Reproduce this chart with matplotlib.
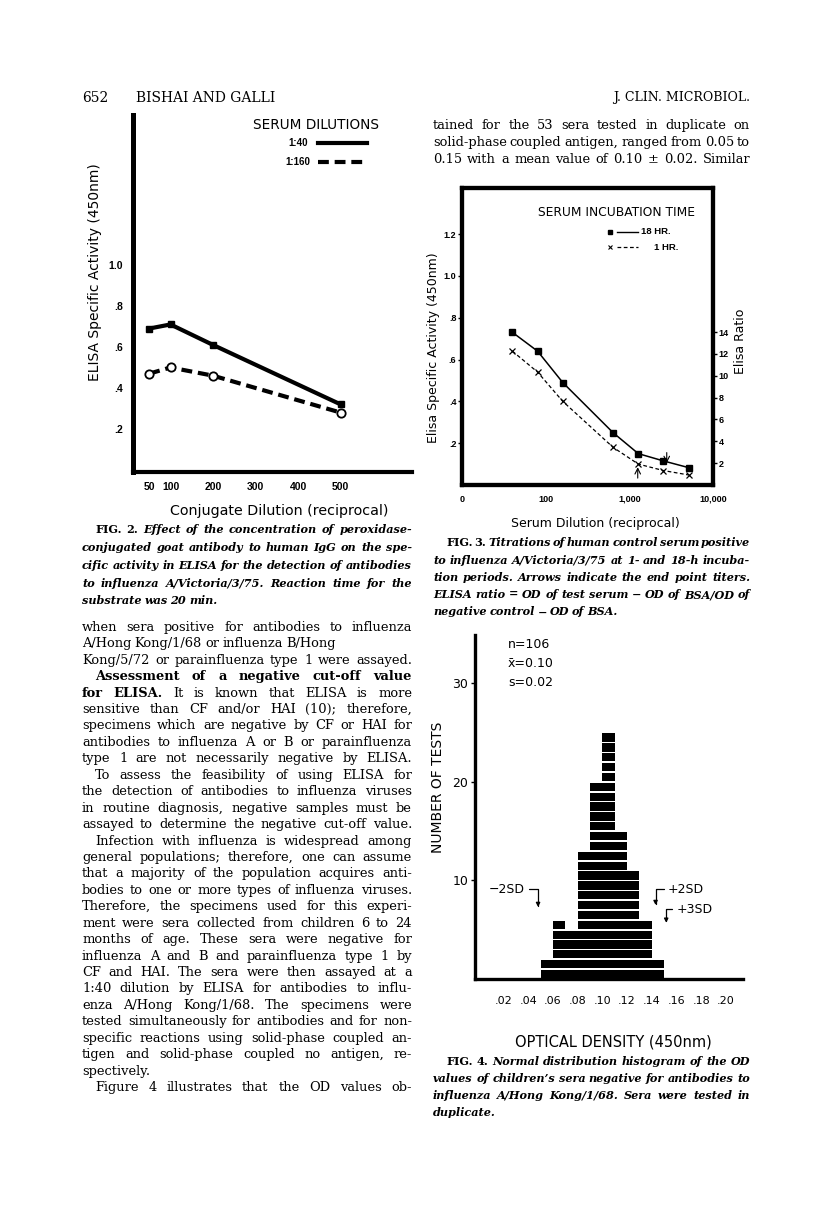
import matplotlib
matplotlib.use("Agg")
import matplotlib.pyplot as plt
from matplotlib.lines import Line2D
from matplotlib.ticker import NullLocator

W, H = 816, 1208
SERIF = "DejaVu Serif"
SANS = "DejaVu Sans"
BSANS = "Liberation Sans"

# ---- Fig. 2 data ----
conj_dilution = [50, 100, 200, 500]
act_1_40 = [0.69, 0.71, 0.61, 0.32]
act_1_160 = [0.47, 0.50, 0.46, 0.28]
fig2_xticks = [50, 100, 200, 300, 400, 500]
fig2_yticks = [0.2, 0.4, 0.6, 0.8, 1.0]
fig2_yticklabels = [".2", ".4", ".6", ".8", "1.0"]

# ---- Fig. 3 data ----
serum_dilution = [40, 80, 160, 640, 1280, 2560, 5120]
od_18hr = [0.73, 0.64, 0.49, 0.25, 0.15, 0.115, 0.083]
od_1hr = [0.64, 0.54, 0.40, 0.18, 0.10, 0.069, 0.048]
fig3_xticks = [10, 100, 1000, 10000]
fig3_xticklabels = ["0", "100", "1,000", "10,000"]
fig3_yticks = [0.2, 0.4, 0.6, 0.8, 1.0, 1.2]
fig3_yticklabels = [".2", ".4", ".6", ".8", "1.0", "1.2"]
ratio_ticks = [2, 4, 6, 8, 10, 12, 14]
endpoint_18hr = 2800
endpoint_1hr = 1260

# ---- Fig. 4 data ----
od_bin_left = [0.05, 0.06, 0.07, 0.08, 0.09, 0.10, 0.11, 0.12, 0.13, 0.14]
n_tests = [2, 6, 5, 13, 20, 25, 15, 11, 6, 2]
fig4_xticks = [0.02, 0.04, 0.06, 0.08, 0.10, 0.12, 0.14, 0.16, 0.18, 0.20]
fig4_xticklabels = [".02", ".04", ".06", ".08", ".10", ".12", ".14", ".16", ".18", ".20"]
fig4_yticks = [10, 20, 30]

# ---- page text ----
body_left = [
    "when sera positive for antibodies to influenza",
    "A/Hong Kong/1/68 or influenza B/Hong",
    "Kong/5/72 or parainfluenza type 1 were assayed.",
    ">**Assessment of a negative cut-off value**",
    "**for ELISA.** It is known that ELISA is more",
    "sensitive than CF and/or HAI (10); therefore,",
    "specimens which are negative by CF or HAI for",
    "antibodies to influenza A or B or parainfluenza",
    "type 1 are not necessarily negative by ELISA.",
    ">To assess the feasibility of using ELISA for",
    "the detection of antibodies to influenza viruses",
    "in routine diagnosis, negative samples must be",
    "assayed to determine the negative cut-off value.",
    ">Infection with influenza is widespread among",
    "general populations; therefore, one can assume",
    "that a majority of the population acquires anti-",
    "bodies to one or more types of influenza viruses.",
    "Therefore, the specimens used for this experi-",
    "ment were sera collected from children 6 to 24",
    "months of age. These sera were negative for",
    "influenza A and B and parainfluenza type 1 by",
    "CF and HAI. The sera were then assayed at a",
    "1:40 dilution by ELISA for antibodies to influ-",
    "enza A/Hong Kong/1/68. The specimens were",
    "tested simultaneously for antibodies and for non-",
    "specific reactions using solid-phase coupled an-",
    "tigen and solid-phase coupled no antigen, re-",
    "spectively.",
    ">Figure 4 illustrates that the OD values ob-",
]
body_right = [
    "tained for the 53 sera tested in duplicate on",
    "solid-phase coupled antigen, ranged from 0.05 to",
    "0.15 with a mean value of 0.10 ± 0.02. Similar",
]
cap2 = [
    ">^FIG. ^2. Effect of the concentration of peroxidase-",
    "conjugated goat antibody to human IgG on the spe-",
    "cific activity in ELISA for the detection of antibodies",
    "to influenza A/Victoria/3/75. Reaction time for the",
    "substrate was 20 min.",
]
cap3 = [
    ">^FIG. ^3. Titrations of human control serum positive",
    "to influenza A/Victoria/3/75 at 1- and 18-h incuba-",
    "tion periods. Arrows indicate the end point titers.",
    "ELISA ratio = OD of test serum − OD of BSA/OD of",
    "negative control − OD of BSA.",
]
cap4 = [
    ">^FIG. ^4. Normal distribution histogram of the OD",
    "values of children’s sera negative for antibodies to",
    "influenza A/Hong Kong/1/68. Sera were tested in",
    "duplicate.",
]

fig = plt.figure(figsize=(W / 100, H / 100), dpi=100)
renderer = fig.canvas.get_renderer()


def fx(x):
    return x / W


def fy(y):
    return 1 - y / H


def add_axes(l, t, r, b):
    return fig.add_axes([fx(l), fy(b), (r - l) / W, (b - t) / H])


def tokens(line, weight, style):
    out = []
    bold = False
    for w in line.split():
        if w.startswith("**"):
            bold = True
            w = w[2:]
        end = w.endswith("**")
        if end:
            w = w[:-2]
        st = style
        if w.startswith("^"):
            w = w[1:]
            st = "normal"
        out.append((w, "bold" if bold else weight, st))
        if end:
            bold = False
    return out


def word_width(w, size, wt, st):
    t = fig.text(0, 0, w, fontsize=size, family=SERIF, weight=wt, style=st)
    wd = t.get_window_extent(renderer).width
    t.remove()
    return wd


def split_indent(line, x0, indent):
    if line.startswith(">"):
        return line[1:], x0 + indent
    return line, x0


def fit_size(lines, x0, x1, weight="normal", style="normal", indent=13):
    # largest size at which every line fits with tight spaces
    best = 99
    for line in lines:
        line, left = split_indent(line, x0, indent)
        words = tokens(line, weight, style)
        ws = [word_width(w, 10, wt, st) for w, wt, st in words]
        nat = sum(ws) + 10 * 100 / 72 * 0.16 * (len(words) - 1)
        best = min(best, 10 * (x1 - left) / nat)
    return best * 0.995


def text_block(lines, x0, x1, y0, step, size, weight="normal", style="normal", indent=13):
    # justified text, word by word
    for i, line in enumerate(lines):
        line, left = split_indent(line, x0, indent)
        words = tokens(line, weight, style)
        widths = [word_width(w, size, wt, st) for w, wt, st in words]
        space = size * 100 / 72 * 0.25
        natural = sum(widths) + space * (len(words) - 1)
        if natural > 0.8 * (x1 - left) and len(words) > 1:
            gap = (x1 - left - sum(widths)) / (len(words) - 1)
        else:
            gap = space
        x = left
        y = y0 + i * step + size * 100 / 72 * 0.3
        for (w, wt, st), wd in zip(words, widths):
            fig.text(fx(x), fy(y), w, fontsize=size, family=SERIF, weight=wt,
                     style=st, va="baseline", ha="left")
            x += wd + gap


# header
fig.text(fx(82), fy(98), "652", fontsize=10, family=SERIF, va="center")
fig.text(fx(136), fy(98), "BISHAI AND GALLI", fontsize=10, family=SERIF, va="center")
fig.text(fx(750), fy(98), "J. CLIN. MICROBIOL.", fontsize=9, family=SERIF,
         va="center", ha="right")

body_size = min(fit_size(body_left, 82, 412), fit_size(body_right, 433, 750), 9.6)
cap_size = min(fit_size(cap2, 82, 412, "bold", "italic"),
               fit_size(cap3, 433, 750, "bold", "italic"),
               fit_size(cap4, 433, 750, "bold", "italic"), 9.3)
text_block(body_left, 82, 412, 627, 16.43, body_size)
text_block(body_right, 433, 750, 125, 17.0, body_size)
text_block(cap2, 82, 412, 530, 17.75, cap_size, weight="bold", style="italic")
text_block(cap3, 433, 750, 543, 17.25, cap_size, weight="bold", style="italic")
text_block(cap4, 433, 750, 1062, 17.0, cap_size, weight="bold", style="italic")

# ================= Fig. 2 =================
ax2 = add_axes(133, 115, 412, 472)
ax2.plot(conj_dilution, act_1_40, color="black", lw=3, marker="s", ms=5)
ax2.plot(conj_dilution, act_1_160, color="black", lw=3, ls=(0, (2.6, 1.4)),
         marker="o", ms=6, mfc="white", mec="black", mew=1.3)
ax2.set_xlim(11.8, 668)
ax2.set_ylim(-0.01, 1.732)
for s in ["top", "right"]:
    ax2.spines[s].set_visible(False)
ax2.spines["left"].set_linewidth(3.6)
ax2.spines["bottom"].set_linewidth(3.0)
ax2.set_xticks(fig2_xticks)
ax2.set_xticklabels([str(v) for v in fig2_xticks])
ax2.set_yticks(fig2_yticks)
ax2.set_yticklabels(fig2_yticklabels)
ax2.tick_params(length=0, pad=7)
for lab in ax2.get_xticklabels() + ax2.get_yticklabels():
    lab.set_fontfamily(BSANS)
    lab.set_fontweight("bold")
    lab.set_fontsize(7.5)

fig.text(fx(95), fy(272), "ELISA Specific Activity (450nm)", rotation=90,
         ha="center", va="center", fontsize=10, family=SANS)
fig.text(fx(279), fy(511), "Conjugate Dilution (reciprocal)", ha="center",
         va="center", fontsize=10.3, family=SANS)
fig.text(fx(316), fy(125), "SERUM DILUTIONS", ha="center", va="center",
         fontsize=9.8, family=SANS)
fig.text(fx(308), fy(143), "1:40", ha="right", va="center", fontsize=7,
         family=BSANS, weight="bold")
fig.text(fx(310), fy(162), "1:160", ha="right", va="center", fontsize=7,
         family=BSANS, weight="bold")
fig.add_artist(Line2D([fx(318), fx(367)], [fy(143), fy(143)], transform=fig.transFigure,
                      color="black", lw=3))
fig.add_artist(Line2D([fx(318), fx(367)], [fy(162), fy(162)], transform=fig.transFigure,
                      color="black", lw=3, ls=(0, (2.6, 1.4))))

# ================= Fig. 3 =================
ax3 = add_axes(462, 188, 713, 485)
ax3.set_xscale("log")
ax3.plot(serum_dilution, od_18hr, color="black", lw=1.1, marker="s", ms=4)
ax3.plot(serum_dilution, od_1hr, color="black", lw=0.9, ls=(0, (3, 2)),
         marker="x", ms=4, mew=0.9)
ax3.set_xlim(10, 10000)
ax3.set_ylim(0, 1.42)
for s in ax3.spines.values():
    s.set_linewidth(3)
ax3.set_xticks(fig3_xticks)
ax3.set_xticklabels(fig3_xticklabels)
ax3.xaxis.set_minor_locator(NullLocator())
ax3.set_yticks(fig3_yticks)
ax3.set_yticklabels(fig3_yticklabels)
ax3.tick_params(axis="x", length=0, pad=7)
ax3.tick_params(axis="y", length=3, width=1, direction="out", pad=1)
ax3r = ax3.twinx()
ax3r.set_ylim(0, 27.2)
ax3r.set_yticks(ratio_ticks)
ax3r.set_yticklabels([str(v) for v in ratio_ticks])
ax3r.tick_params(axis="y", length=3, width=1, direction="out", pad=1)
for s in ax3r.spines.values():
    s.set_linewidth(3)
for lab in (ax3.get_xticklabels() + ax3.get_yticklabels() + ax3r.get_yticklabels()):
    lab.set_fontfamily(BSANS)
    lab.set_fontweight("bold")
    lab.set_fontsize(6.5)

ax3.annotate("", xy=(endpoint_18hr, 0.105), xytext=(endpoint_18hr, 0.155),
             arrowprops=dict(arrowstyle="->", lw=0.8, color="black", shrinkA=0, shrinkB=0))
ax3.annotate("", xy=(endpoint_1hr, 0.085), xytext=(endpoint_1hr, 0.033),
             arrowprops=dict(arrowstyle="->", lw=0.8, color="black", shrinkA=0, shrinkB=0))

fig.text(fx(433), fy(348), "Elisa Specific Activity (450nm)", rotation=90,
         ha="center", va="center", fontsize=9, family=SANS)
fig.text(fx(741), fy(341), "Elisa Ratio", rotation=90, ha="center", va="center",
         fontsize=9, family=SANS)
fig.text(fx(595), fy(523), "Serum Dilution (reciprocal)", ha="center", va="center",
         fontsize=9, family=SANS)
fig.text(fx(616), fy(213), "SERUM INCUBATION TIME", ha="center", va="center",
         fontsize=8.8, family=SANS)
fig.add_artist(Line2D([fx(610)], [fy(232)], transform=fig.transFigure, marker="s",
                      ms=3.5, color="black", ls="none"))
fig.add_artist(Line2D([fx(617), fx(638)], [fy(232), fy(232)], transform=fig.transFigure,
                      color="black", lw=1))
fig.text(fx(641), fy(232), "18 HR.", ha="left", va="center", fontsize=6.8,
         family=BSANS, weight="bold")
fig.add_artist(Line2D([fx(610)], [fy(247)], transform=fig.transFigure, marker="x",
                      ms=3.5, mew=0.8, color="black", ls="none"))
fig.add_artist(Line2D([fx(617), fx(638)], [fy(247), fy(247)], transform=fig.transFigure,
                      color="black", lw=0.9, ls=(0, (3, 2))))
fig.text(fx(678), fy(247), "1 HR.", ha="right", va="center", fontsize=6.8,
         family=BSANS, weight="bold")

# ================= Fig. 4 =================
ax4 = add_axes(475, 635, 743, 979)
for k in range(max(n_tests)):
    lefts = [x for x, n in zip(od_bin_left, n_tests) if n > k]
    ax4.bar(lefts, 0.84, width=0.01, bottom=k + 0.08, align="edge", color="black",
            linewidth=0)
ax4.set_xlim(-0.003, 0.2137)
ax4.set_ylim(0, 34.9)
for s in ["top", "right"]:
    ax4.spines[s].set_visible(False)
ax4.spines["left"].set_linewidth(2.4)
ax4.spines["bottom"].set_linewidth(2.4)
ax4.set_xticks(fig4_xticks)
ax4.set_xticklabels(fig4_xticklabels)
ax4.set_yticks(fig4_yticks)
ax4.tick_params(axis="x", length=0, pad=12, labelsize=8)
ax4.tick_params(axis="y", length=3, width=1, direction="out", pad=2, labelsize=9)

fig.text(fx(508), fy(645), "n=106", ha="left", va="center", fontsize=9, family=SANS)
fig.text(fx(508), fy(663), "x\u0304=0.10", ha="left", va="center", fontsize=9, family=SANS)
fig.text(fx(508), fy(683), "s=0.02", ha="left", va="center", fontsize=9, family=SANS)

arrow_kw = dict(arrowstyle="-|>", lw=0.9, color="black", mutation_scale=6,
                shrinkA=1, shrinkB=0,
                connectionstyle="angle,angleA=0,angleB=90,rad=0")
ax4.annotate("\u22122SD", xy=(0.048, 7.3), xytext=(0.0375, 9.1), ha="right", va="center",
             fontsize=9, family=SANS, arrowprops=arrow_kw)
ax4.annotate("+2SD", xy=(0.143, 7.5), xytext=(0.153, 9.1), ha="left", va="center",
             fontsize=9, family=SANS, arrowprops=arrow_kw)
ax4.annotate("+3SD", xy=(0.1516, 5.7), xytext=(0.160, 7.1), ha="left", va="center",
             fontsize=9, family=SANS, arrowprops=arrow_kw)

fig.text(fx(438), fy(787), "NUMBER OF TESTS", rotation=90, ha="center", va="center",
         fontsize=10, family=SANS)
fig.text(fx(613), fy(1042), "OPTICAL DENSITY (450nm)", ha="center", va="center",
         fontsize=10.5, family=SANS)

fig.savefig("out.png", dpi=100)
